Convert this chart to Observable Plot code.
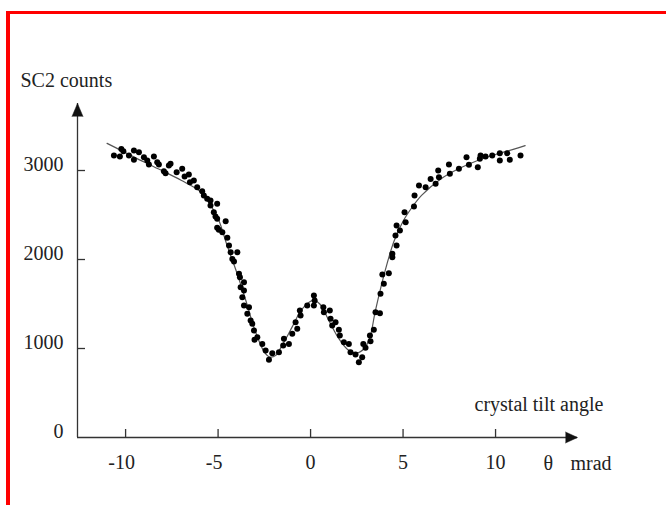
<!DOCTYPE html>
<html><head><meta charset="utf-8">
<script src="https://cdn.jsdelivr.net/npm/d3@7"></script>
<script src="https://cdn.jsdelivr.net/npm/@observablehq/plot@0.6"></script>
<style>
html,body{margin:0;padding:0;background:#fff;}
#wrap{position:relative;width:666px;height:505px;overflow:hidden;}
#frame{position:absolute;left:6px;top:11px;width:700px;height:600px;border-top:3px solid #f00;border-left:4px solid #f00;pointer-events:none;}
#chart{position:absolute;left:0;top:0;}
</style></head><body><div id="wrap"><div id="chart"></div><div id="frame"></div></div>
<script>
// measured points (crystal tilt angle in mrad, SC2 counts)
const pointX = [-10.63,-10.31,-10.23,-10.12,-9.82,-9.55,-9.55,-9.28,-9.01,-8.83,-8.74,-8.47,-8.29,-8.20,-7.93,-7.84,-7.66,-7.57,-7.24,-6.94,-6.81,-6.58,-6.52,-6.31,-6.13,-5.86,-5.77,-5.59,-5.41,-5.41,-5.05,-5.23,-5.14,-5.05,-4.59,-5.05,-4.96,-4.77,-4.50,-4.41,-4.32,-4.23,-4.14,-3.96,-3.87,-3.82,-3.78,-3.60,-3.60,-3.69,-3.60,-3.33,-3.42,-3.24,-3.15,-3.06,-3.03,-2.88,-2.61,-2.43,-2.25,-2.07,-1.71,-1.48,-1.44,-1.17,-0.99,-0.81,-0.72,-0.58,
  -0.54,-0.18,0.18,0.18,0.22,0.69,0.72,1.04,1.08,1.35,1.17,1.53,1.58,1.80,2.07,2.16,2.43,2.61,2.79,2.85,2.97,3.21,3.24,3.42,3.51,3.75,3.78,3.96,3.88,4.23,4.42,4.42,4.65,4.59,4.65,4.83,5.14,5.08,5.59,5.62,5.86,6.22,6.49,6.76,6.90,6.94,7.48,7.53,8.02,8.43,8.56,9.04,9.19,9.15,9.46,9.82,10.23,10.23,10.63,10.77,11.35];
const pointY = [3169,3157,3243,3217,3169,3225,3120,3206,3150,3112,3067,3157,3094,3067,2993,2970,3056,3075,2981,3019,2933,2955,2869,2888,2813,2768,2719,2682,2663,2607,2626,2532,2483,2457,2431,2356,2333,2307,2244,2157,2082,2007,1978,2082,1839,1801,1689,1745,1652,1577,1483,1464,1390,1315,1277,1202,1097,1127,1052,978,873,947,959,1034,1109,1052,1165,1296,1221,1427,
  1371,1483,1483,1596,1539,1464,1408,1427,1333,1296,1258,1210,1146,1071,1052,959,933,846,902,1052,1008,1146,1082,1210,1408,1397,1614,1727,1831,1846,2026,2064,2157,2270,2382,2326,2419,2532,2596,2719,2831,2813,2906,2850,3000,2925,3067,2963,3019,3150,3064,3037,3169,3131,3157,3169,3195,3112,3195,3120,3169];
// fitted curve
const fitX = [-11,-10,-9,-8,-7,-6,-5.5,-5,-4.5,-4,-3.5,-3,-2.5,-2.2,-1.9,-1.5,-1,-0.5,0,0.2,0.5,1,1.5,2,2.5,2.9,3.2,3.5,4,4.5,5,5.5,6,7,8,9,10,11,11.6];
const fitY = [3305,3200,3095,2995,2890,2770,2640,2460,2150,1860,1540,1200,960,905,920,1050,1240,1430,1530,1540,1500,1310,1120,990,950,1000,1120,1420,1850,2200,2430,2590,2720,2900,3020,3110,3180,3240,3280];
const xTicks = [-10,-5,0,5,10];
const yTicks = [0,1000,2000,3000];
const xDomain = [-12.6, 14.43];
const yDomain = [0, 3753];
const yTitle = "SC2 counts";
const xTitle = "crystal tilt angle";
const xSymbol = "θ";
const xUnit = "mrad";

const points = pointX.map((x, i) => ({x, y: pointY[i]}));
const fit = fitX.map((x, i) => ({x, y: fitY[i]}));
const ink = "#222";
const W = 666, H = 505, mL = 77, mR = 89, mT = 103, mB = 68, tick = 8;

const chart = Plot.plot({
  width: W, height: H,
  marginLeft: mL, marginRight: mR, marginTop: mT, marginBottom: mB,
  x: {domain: xDomain},
  y: {domain: yDomain},
  style: {fontFamily: "'Liberation Serif','Times New Roman',serif", fontSize: "20px", color: ink, background: "transparent", overflow: "visible"},
  marks: [
    Plot.ruleY([yDomain[0]], {stroke: "#333", strokeWidth: 1.3}),
    Plot.ruleX([xDomain[0]], {stroke: "#333", strokeWidth: 1.3}),
    // inward ticks
    Plot.ruleX(xTicks, {x: d => d, insetTop: H - mT - mB - tick, stroke: "#333", strokeWidth: 1.3}),
    Plot.ruleY(yTicks.filter(d => d > 0), {y: d => d, insetRight: W - mL - mR - tick, stroke: "#333", strokeWidth: 1.3}),
    // tick labels
    Plot.axisX(xTicks.filter(d => d < 0), {tickSize: 0, tickPadding: 17, dx: -4, tickFormat: d => String(d), fill: ink, label: null}),
    Plot.axisX(xTicks.filter(d => d >= 0), {tickSize: 0, tickPadding: 17, tickFormat: d => String(d), fill: ink, label: null}),
    Plot.axisY(yTicks, {tickSize: 0, tickPadding: 14, dy: -6, tickFormat: d => String(d), fill: ink, label: null}),
    // axis arrow heads
    Plot.vector([0], {x: xDomain[0], y: yDomain[1], length: 13, r: 5.5, rotate: 0, anchor: "end", shape: "spike", fill: "#111", stroke: "#111", strokeWidth: 0.5}),
    Plot.vector([0], {x: xDomain[1], y: yDomain[0], length: 12, r: 5.5, rotate: 90, anchor: "end", shape: "spike", fill: "#111", stroke: "#111", strokeWidth: 0.5}),
    // fit and data
    Plot.line(fit, {x: "x", y: "y", curve: "catmull-rom", stroke: "#555", strokeWidth: 1.2}),
    Plot.dot(points, {x: "x", y: "y", r: 3, fill: "#000", stroke: null}),
    // titles
    Plot.text([yTitle], {x: xDomain[0], y: yDomain[1], text: d => d, textAnchor: "start", lineAnchor: "middle", dx: -57, dy: -23, fill: ink}),
    Plot.text([xTitle], {x: xDomain[1], y: yDomain[0], text: d => d, textAnchor: "start", lineAnchor: "middle", dx: -103, dy: -33, fill: ink}),
    Plot.text([xSymbol], {x: xDomain[1], y: yDomain[0], text: d => d, textAnchor: "start", lineAnchor: "middle", dx: -34, dy: 26, fill: ink}),
    Plot.text([xUnit], {x: xDomain[1], y: yDomain[0], text: d => d, textAnchor: "start", lineAnchor: "middle", dx: -7, dy: 26, fill: ink})
  ]
});
document.getElementById("chart").appendChild(chart);
</script>
</body></html>
